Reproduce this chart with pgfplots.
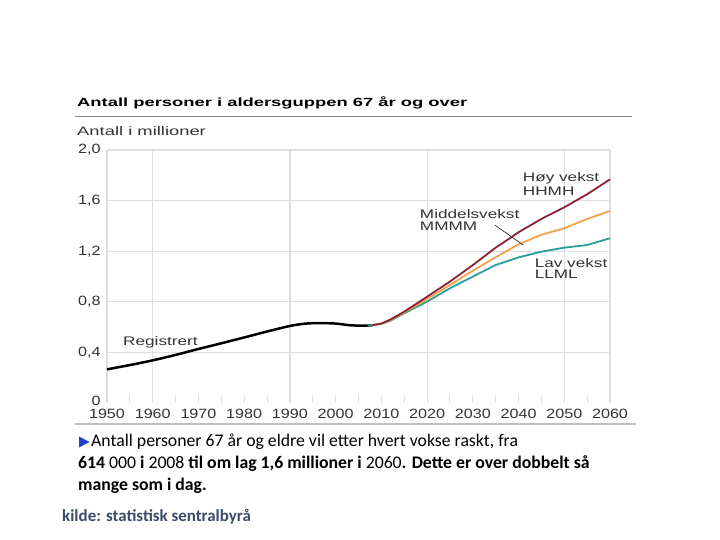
\documentclass[border=0pt]{standalone}
\usepackage{fontspec}
\usepackage{pgfplots}
\pgfplotsset{compat=1.18}
\setmainfont{Liberation Sans}
\newfontfamily\chartfont[FakeStretch=1.38]{Liberation Sans}
\newfontfamily\labfont[FakeStretch=1.5]{Liberation Sans}
\newfontfamily\titlefont[FakeStretch=1.55]{Liberation Sans}
\newfontfamily\tickfont[FakeStretch=1.2]{Liberation Sans}
\newfontfamily\bodyfont{Carlito}
\definecolor{hoy}{HTML}{8B2333}
\definecolor{mid}{HTML}{F2A24A}
\definecolor{lav}{HTML}{2A9E9B}
\definecolor{gridc}{HTML}{DEDEDE}
\definecolor{txt}{HTML}{333333}
\definecolor{kildec}{HTML}{3B4C6B}
\definecolor{tri}{HTML}{1F3FD0}
\begin{document}
\begin{tikzpicture}[x=1bp,y=1bp]
\path[fill=white,use as bounding box] (0,0) rectangle (720,540);
\begin{axis}[
  at={(107bp,137bp)}, anchor=south west, scale only axis,
  width=503bp, height=253bp,
  xmin=1950, xmax=2060, ymin=0, ymax=2,
  axis line style={draw=none},
  tick pos=left,
  xtick={1950,1960,...,2060},
  xticklabels={1950,1960,1970,1980,1990,2000,2010,2020,2030,2040,2050,2060},
  xmajorgrids=false,
  extra x ticks={1950,1960,1990,2020,2050,2060},
  extra x tick labels={},
  extra x tick style={grid=major},
  minor xtick={1950,1955,...,2060},
  minor tick length=7bp,
  minor tick style={gridc, line width=1bp},
  major tick length=0pt,
  ytick={0.4,0.8,1.2,1.6,2.0},
  yticklabels={{0,4},{0,8},{1,2},{1,6},{2,0}},
  ymajorgrids,
  extra y ticks={0},
  extra y tick labels={0},
  extra y tick style={grid=none, yticklabel style={yshift=2bp}},
  grid style={gridc, line width=1.2bp},
  tick label style={font=\tickfont\fontsize{13.5}{14}\selectfont, text=txt},
  yticklabel style={xshift=-3bp},
  xticklabel style={yshift=-3bp},
  clip=false,
]
\addplot[black, line width=2.5bp, smooth, tension=0.5] coordinates {
(1950,0.266)(1955,0.300)(1960,0.337)(1965,0.380)(1970,0.427)(1975,0.472)
(1980,0.518)(1985,0.565)(1990,0.609)(1993,0.626)(1996,0.632)(2000,0.628)
(2003,0.615)(2006,0.611)(2008,0.614)};
\addplot[lav, line width=1.8bp] coordinates {
(2007,0.612)(2010,0.626)(2012,0.650)(2015,0.709)(2020,0.801)(2025,0.907)
(2030,0.999)(2035,1.091)(2040,1.151)(2045,1.196)(2050,1.228)(2055,1.249)(2060,1.302)};
\addplot[mid, line width=1.8bp] coordinates {
(2008,0.614)(2010,0.627)(2012,0.655)(2015,0.715)(2020,0.822)(2025,0.933)
(2030,1.046)(2035,1.152)(2040,1.254)(2045,1.330)(2050,1.381)(2055,1.455)(2060,1.518)};
\addplot[hoy, line width=1.8bp] coordinates {
(2008,0.614)(2010,0.628)(2012,0.660)(2015,0.722)(2020,0.840)(2025,0.960)
(2030,1.090)(2035,1.228)(2038,1.300)(2040,1.350)(2045,1.455)(2050,1.547)(2055,1.650)(2060,1.768)};
\begin{scope}[every node/.style={anchor=base west, inner sep=0pt, text=txt, font=\chartfont\fontsize{12.5}{13}\selectfont}]
\node at (axis cs:2040.9,1.747) {Høy vekst};
\node at (axis cs:2040.9,1.644) {HHMH};
\node at (axis cs:2018.4,1.462) {Middelsvekst};
\node at (axis cs:2018.4,1.360) {MMMM};
\node at (axis cs:2043.5,1.075) {Lav vekst};
\node at (axis cs:2043.5,0.988) {LLML};
\node at (axis cs:1953.5,0.458) {Registrert};
\end{scope}
\draw[black!80, line width=0.7bp] (axis cs:2034.8,1.407) -- (axis cs:2041.0,1.249);
\end{axis}
% title and rules
\node[anchor=base west, inner sep=0pt, font=\titlefont\bfseries\fontsize{11.9}{13}\selectfont] at (77,433) {Antall personer i aldersguppen 67 år og over};
\draw[black!45, line width=1bp] (75,423) -- (632,423);
\node[anchor=base west, inner sep=0pt, text=txt, font=\labfont\fontsize{12.3}{13}\selectfont] at (77,404) {Antall i millioner};
\draw[black!25, line width=1.5bp] (75,116) -- (636,116);
% body text
\fill[tri] (79,103.5) -- (79,92.5) -- (89.5,98) -- cycle;
\begin{scope}[every node/.style={anchor=base west, inner sep=0pt, font=\bodyfont\fontsize{17.8}{20}\selectfont}]
\node at (91,93) {Antall personer 67 år og eldre vil etter hvert vokse raskt, fra};
\node at (78,71) {\bfseries 614 \mdseries 000 \bfseries i \mdseries 2008 \bfseries til om lag 1,6 millioner i \mdseries 2060\bfseries. Dette er over dobbelt så};
\node at (78,49) {\bfseries mange som i dag.};
\end{scope}
\node[anchor=base west, inner sep=0pt, text=kildec, font=\bodyfont\bfseries\fontsize{17}{18}\selectfont] at (62,18) {kilde: statistisk sentralbyrå};
\end{tikzpicture}
\end{document}
